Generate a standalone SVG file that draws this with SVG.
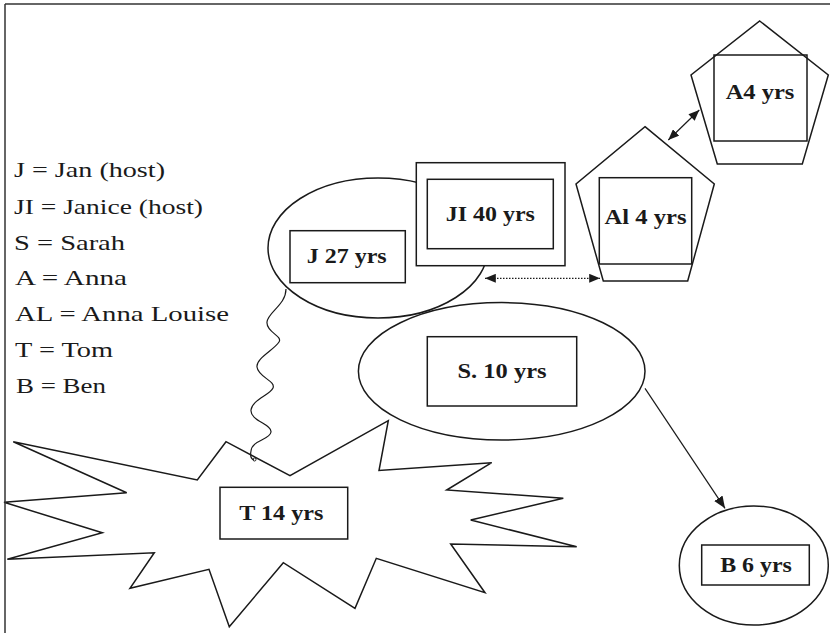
<svg xmlns="http://www.w3.org/2000/svg" width="830" height="633" viewBox="0 0 830 633">
<defs>
<style>
.s{fill:none;stroke:#1a1a1a;stroke-width:1.5}
.w{fill:#fff;stroke:#1a1a1a;stroke-width:1.5}
.lg{font-family:"Liberation Serif","Times New Roman",serif;font-size:22px;fill:#1a1a1a}
.lb{font-family:"Liberation Serif","Times New Roman",serif;font-size:22px;font-weight:bold;fill:#1a1a1a;text-anchor:middle}
.c{fill:none;stroke:#1a1a1a;stroke-width:1.2}
.d{fill:none;stroke:#1a1a1a;stroke-width:1.2;stroke-dasharray:1.5 1.5}
</style>
<marker id="ah" viewBox="0 0 12 10" refX="12" refY="5" markerWidth="12" markerHeight="10" markerUnits="userSpaceOnUse" orient="auto-start-reverse">
<path d="M0,0 L12,5 L0,10 Z" fill="#1a1a1a"/>
</marker>
<marker id="ahs" viewBox="0 0 12 10" refX="12" refY="5" markerWidth="11" markerHeight="9" markerUnits="userSpaceOnUse" orient="auto-start-reverse">
<path d="M0,0 L12,5 L0,10 Z" fill="#1a1a1a"/>
</marker>
</defs>
<rect width="830" height="633" fill="#fff"/>

<g id="legend">
<text class="lg" x="14" y="177" textLength="151" lengthAdjust="spacingAndGlyphs">J = Jan (host)</text>
<text class="lg" x="14" y="213.5" textLength="189" lengthAdjust="spacingAndGlyphs">JI = Janice (host)</text>
<text class="lg" x="14" y="249.5" textLength="111" lengthAdjust="spacingAndGlyphs">S = Sarah</text>
<text class="lg" x="15" y="285" textLength="112" lengthAdjust="spacingAndGlyphs">A = Anna</text>
<text class="lg" x="15" y="321" textLength="214" lengthAdjust="spacingAndGlyphs">AL = Anna Louise</text>
<text class="lg" x="15" y="357" textLength="98" lengthAdjust="spacingAndGlyphs">T = Tom</text>
<text class="lg" x="16" y="392.5" textLength="90" lengthAdjust="spacingAndGlyphs">B = Ben</text>
</g>

<g id="node-T">
<polygon class="w" points="13.3,441.7 197.3,480 226,441.7 290,475.7 388.3,420.7 379,470.5 491.7,462.7 446.7,490 563.3,498.3 470.7,520 576.7,546.7 450.7,544 485,592.7 376.3,558.3 355,608.3 283.3,562.7 229.3,626.7 209,569.3 130,588.3 154.3,552.7 7.3,559.3 102.3,532.7 4,502.3 126.7,492.7"/>
<rect class="w" x="220" y="487.3" width="127.7" height="51.7"/>
<text class="lb" x="281.3" y="520" textLength="84" lengthAdjust="spacingAndGlyphs">T 14 yrs</text>
</g>

<g id="node-J">
<ellipse class="s" cx="378" cy="248" rx="110" ry="70"/>
<rect class="w" x="290" y="230.7" width="115.3" height="52"/>
<text class="lb" x="346.7" y="263.3" textLength="80" lengthAdjust="spacingAndGlyphs">J 27 yrs</text>
</g>

<g id="node-JI">
<rect class="w" x="416.3" y="162.7" width="148.7" height="103"/>
<rect class="w" x="427.3" y="179.3" width="126" height="69.4"/>
<text class="lb" x="490.3" y="221" textLength="89" lengthAdjust="spacingAndGlyphs">JI 40 yrs</text>
</g>

<g id="node-S">
<ellipse class="s" cx="501.7" cy="371.3" rx="143.3" ry="68.7"/>
<rect class="w" x="427.3" y="336.7" width="149.4" height="69.3"/>
<text class="lb" x="502" y="378.3" textLength="89" lengthAdjust="spacingAndGlyphs">S. 10 yrs</text>
</g>

<g id="node-Al">
<polygon class="w" points="645,126.7 714.3,184 687.7,281 603.3,281 576,184"/>
<rect class="s" x="599.3" y="177.7" width="92.4" height="86.3"/>
<text class="lb" x="645.5" y="224" textLength="82" lengthAdjust="spacingAndGlyphs">Al 4 yrs</text>
</g>

<g id="node-A4">
<polygon class="w" points="759.7,21 828.3,75 802.3,164 717.3,164 691,75"/>
<rect class="s" x="714" y="55" width="93" height="86"/>
<text class="lb" x="760" y="99.3" textLength="68.7" lengthAdjust="spacingAndGlyphs">A4 yrs</text>
</g>

<g id="node-B">
<ellipse class="w" cx="753.8" cy="565.5" rx="74.5" ry="59.5"/>
<rect class="s" x="701.7" y="545" width="107.6" height="40"/>
<text class="lb" x="756" y="571.7" textLength="71.7" lengthAdjust="spacingAndGlyphs">B 6 yrs</text>
</g>

<g id="connectors">
<path class="c" d="M286,289 C286,305 268,312 267,322 C266,332 283,336 279,342 C274,350 256,358 257,367 C258,377 276,381 273,388 C270,395 252,400 251,410 C250,421 272,424 271,432 C270,440 252,440 251,451 C250,456 251,459 254,460"/>
<circle cx="254.5" cy="459.5" r="1.5" fill="none" stroke="#1a1a1a" stroke-width="1"/>
<line class="d" x1="485" y1="278.3" x2="600" y2="278.3" marker-start="url(#ahs)" marker-end="url(#ahs)"/>
<line class="c" x1="668.3" y1="140" x2="699.3" y2="110" marker-start="url(#ahs)" marker-end="url(#ahs)"/>
<line class="c" x1="645" y1="388.3" x2="725" y2="508.3" marker-end="url(#ah)"/>
</g>

<g id="frame">
<line x1="5" y1="4" x2="830" y2="4" stroke="#333" stroke-width="1.5"/>
<line x1="5" y1="4" x2="5" y2="633" stroke="#333" stroke-width="1.5"/>
</g>
</svg>
